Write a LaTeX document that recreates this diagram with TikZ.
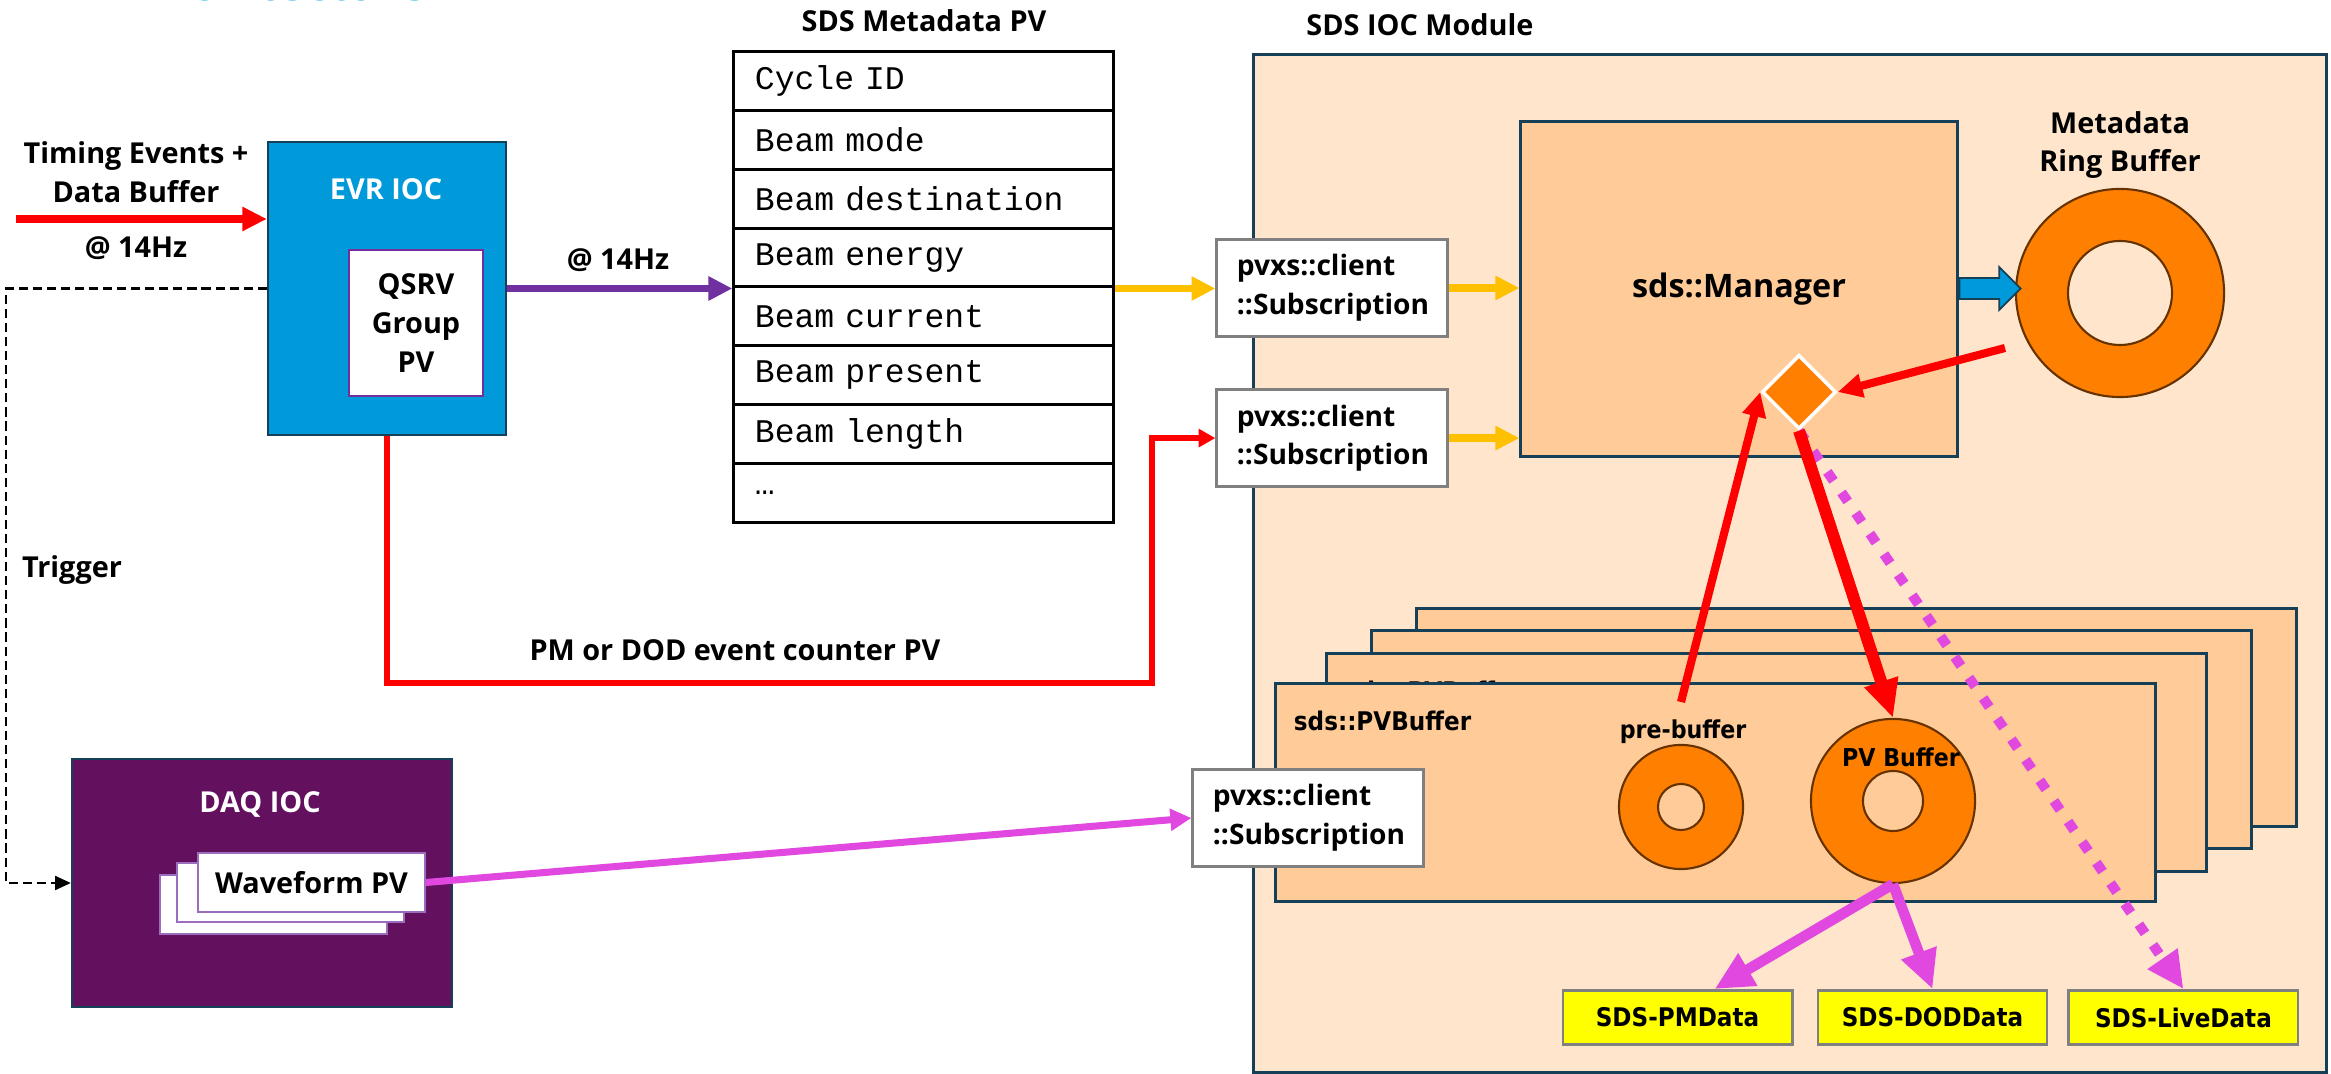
\documentclass[tikz,border=0pt]{standalone}
\usepackage{fontspec}
\setmainfont{Open Sans}
\newfontfamily\svgfont{DejaVu Sans}[FakeStretch=0.9]
\newfontfamily\tablefont{Liberation Mono}
\usetikzlibrary{positioning,arrows.meta,shapes.geometric,shapes.arrows}

\definecolor{evrblue}{RGB}{0,153,218}
\definecolor{edgeteal}{RGB}{22,64,88}
\definecolor{qsrvpurple}{RGB}{112,48,160}
\definecolor{daqpurple}{RGB}{99,16,94}
\definecolor{modulebg}{RGB}{254,229,204}
\definecolor{managerbg}{RGB}{254,203,153}
\definecolor{ringorange}{RGB}{255,127,0}
\definecolor{ringedge}{RGB}{102,51,0}
\definecolor{subyellow}{RGB}{255,192,0}
\definecolor{pvmagenta}{RGB}{224,72,224}
\definecolor{outyellow}{RGB}{255,255,0}
\definecolor{titlecyan}{RGB}{0,160,227}

\begin{document}
\begin{tikzpicture}[
    x=0.01cm, y=-0.01cm,
    node distance=0.5cm,
    font=\bfseries\fontsize{8.2}{11}\selectfont,
    caption/.style={inner sep=0pt, align=center},
    ioc/.style={rectangle, draw=edgeteal, line width=0.6pt, inner sep=0pt},
    qsrvbox/.style={rectangle, draw=qsrvpurple, line width=0.8pt, fill=white, align=center, minimum width=1.34cm, minimum height=1.46cm, inner sep=0pt},
    pvrow/.style={rectangle, draw, line width=0.85pt, minimum height=0.5875cm, text width=3.37cm, inner xsep=0.21cm, inner ysep=0pt, align=left, font=\tablefont\fontsize{9.4}{10}\selectfont},
    clientbox/.style={rectangle, draw=gray, line width=0.85pt, fill=white, text width=1.9cm, inner xsep=0.2cm, minimum height=0.97cm, align=left, font=\bfseries\fontsize{8}{11}\selectfont},
    module/.style={rectangle, draw=edgeteal, line width=0.8pt, fill=modulebg, inner sep=0pt},
    manager/.style={rectangle, draw=edgeteal, line width=0.85pt, fill=managerbg, minimum width=4.36cm, minimum height=3.34cm, font=\bfseries\fontsize{9.2}{11}\selectfont},
    pvbuf/.style={rectangle, draw=edgeteal, line width=0.85pt, fill=managerbg, minimum width=8.79cm, minimum height=2.17cm, inner sep=0pt},
    svglabel/.style={inner sep=0pt, font=\svgfont\bfseries\fontsize{7}{8}\selectfont},
    ringouter/.style={circle, draw=ringedge, line width=0.6pt, fill=ringorange, inner sep=0pt},
    ringhole/.style={circle, draw=ringedge, line width=0.6pt, inner sep=0pt},
    selector/.style={diamond, draw=white, line width=1pt, fill=ringorange, minimum width=0.74cm, minimum height=0.74cm, inner sep=0pt},
    metaarrow/.style={single arrow, draw=edgeteal, line width=0.5pt, fill=evrblue, minimum height=0.61cm, inner xsep=0pt, inner ysep=0.095cm, single arrow head extend=0.11cm, single arrow head indent=0pt},
    outbox/.style={rectangle, draw=gray, line width=0.8pt, fill=outyellow, minimum width=2.29cm, minimum height=0.54cm, font=\svgfont\bfseries\fontsize{7.3}{8}\selectfont},
    wfsheet/.style={rectangle, draw=qsrvpurple!70, line width=0.5pt, fill=white, minimum width=2.27cm, minimum height=0.59cm, inner sep=0pt},
    redarrow/.style={draw=red, line width=2.3pt, -{Triangle[length=7pt,width=6.5pt]}},
    pmline/.style={draw=red, line width=1.7pt, -{Triangle[length=4.8pt,width=5pt]}},
    thickred/.style={draw=red, line width=3.4pt, -{Triangle[length=10.8pt,width=9.4pt]}},
    purplearrow/.style={draw=qsrvpurple, line width=2pt, -{Triangle[length=6.8pt,width=6.5pt]}},
    yellowarrow/.style={draw=subyellow, line width=2.2pt, -{Triangle[length=6.8pt,width=6.5pt]}},
    pinkline/.style={draw=pvmagenta, line width=2pt, -{Triangle[length=6pt,width=6pt]}},
    pinkarrow/.style={draw=pvmagenta, line width=3pt, -{Triangle[length=11pt,width=10pt]}},
    pinkdotted/.style={draw=pvmagenta, line width=2.85pt, dash pattern=on 3.1pt off 4pt, -{Triangle[length=10.5pt,width=9.7pt]}},
    triggerline/.style={draw=black, line width=0.6pt, dash pattern=on 2.6pt off 1.4pt, -{Triangle[length=4.5pt,width=4pt]}}
]
    \useasboundingbox (0,0) rectangle (2331,1074);
    \fill[white] (0,0) rectangle (2331,1074);

    % Slide title, cut off at the top
    \node[anchor=base west, inner sep=0pt, text=titlecyan, font=\fontsize{14.5}{16}\selectfont] (title) at (137,0.5) {Architecture};

    % EVR IOC
    \node[ioc, fill=evrblue, minimum width=2.38cm, minimum height=2.93cm] (evr) at (387,288.5) {};
    \node[caption, text=white] (evrtitle) at (386,189) {EVR IOC};
    \node[qsrvbox] (qsrv) at (416,323) {QSRV\\Group\\PV};

    % Timing input
    \coordinate (timingin) at (16,219);
    \draw[redarrow] (timingin) -- (timingin -| evr.west);
    \node[caption] (timinglabel) at (136,172) {Timing Events +\\Data Buffer};
    \node[caption] (timingrate) at (136,248) {@ 14Hz};

    % SDS Metadata PV
    \node[caption] (metatitle) at (924,21) {SDS Metadata PV};
    \foreach \field [count=\i] in {Cycle ID, Beam mode, Beam destination, Beam energy, Beam current, Beam present, Beam length, …}
        \node[pvrow] (row\i) at (923.5,{52+58.75*(\i-0.5)}) {\field};
    \draw[purplearrow] (evr.east |- row4.south west) -- (row4.south west);
    \node[caption] (metarate) at (618,260) {@ 14Hz};

    % SDS IOC Module
    \node[caption] (moduletitle) at (1420,25) {SDS IOC Module};
    \node[module, minimum width=10.72cm, minimum height=10.17cm] (module) at (1790,563.5) {};
    \node[manager] (manager) at (1739,289) {sds::Manager};

    % Subscriptions
    \node[clientbox] (pvxs1) at (1332,288) {pvxs::client\\::Subscription};
    \node[clientbox, below=0.5cm of pvxs1] (pvxs2) {pvxs::client\\::Subscription};
    \draw[yellowarrow] (row4.south east) -- (row4.south east -| pvxs1.west);
    \draw[yellowarrow] (pvxs1.east) -- (pvxs1.east -| manager.west);
    \draw[yellowarrow] (pvxs2.east) -- (pvxs2.east -| manager.west);

    % Metadata ring buffer
    \node[ringouter, minimum size=2.08cm] (metaring) at (2120,293) {};
    \node[ringhole, fill=modulebg, minimum size=1.04cm] (metahole) at (metaring.center) {};
    \node[caption] (metalabel) at (2120,145) {Metadata\\Ring Buffer};
    \node[metaarrow, anchor=tail] (metaflow) at (manager.east |- row4.south) {};
    \node[selector] (select) at (1799,392) {};

    % PV buffers
    \foreach \dx/\dy/\lvl in {141/-75/4, 96/-53/3, 51/-30/2, 0/0/1} {
        \node[pvbuf] (buf\lvl) at ({1715.5+\dx},{792.5+\dy}) {};
        \node[svglabel, anchor=west, font=\svgfont\bfseries\fontsize{7.3}{8}\selectfont] (buflabel\lvl) at ([shift={(19,38)}]buf\lvl.north west) {sds::PVBuffer};
    }
    \node[ringouter, minimum size=1.24cm] (prering) at (1681,807) {};
    \node[ringhole, fill=managerbg, minimum size=0.46cm] (prehole) at (prering.center) {};
    \node[svglabel] (prelabel) at (1683,732) {pre-buffer};
    \node[ringouter, minimum size=1.64cm] (pvring) at (1893,801) {};
    \node[ringhole, fill=managerbg, minimum size=0.6cm] (pvhole) at (pvring.center) {};
    \node[svglabel] (pvlabel) at (1901,757) {PV Buffer};
    \node[clientbox] (pvxs3) at (1308,818) {pvxs::client\\::Subscription};

    % Outputs
    \node[outbox] (pmdata) at (1677.5,1017.5) {SDS-PMData};
    \node[outbox, right=0.23cm of pmdata] (doddata) {SDS-DODData};
    \node[outbox, right=0.19cm of doddata] (livedata) {SDS-LiveData};

    % Buffer flows
    \coordinate (ringtap) at (2005,348);
    \coordinate (pretap) at (1681,702);
    \draw[redarrow] (ringtap) -- (select.east);
    \draw[redarrow] (pretap) -- (select.west);
    \draw[pinkdotted] (select.south) -- (livedata.north);
    \draw[thickred] (select.south) -- (pvring.north);
    \draw[pinkarrow] (pvring.south) -- ([xshift=0.37cm]pmdata.north);
    \draw[pinkarrow] (pvring.south) -- (doddata.north);

    % DAQ IOC
    \node[ioc, fill=daqpurple, minimum width=3.8cm, minimum height=2.48cm] (daq) at (262,883) {};
    \node[caption, text=white] (daqtitle) at (260,804) {DAQ IOC};
    \node[wfsheet] (wfback) at (273.5,904.5) {};
    \node[wfsheet] (wfmid) at (290.5,892.5) {};
    \node[wfsheet] (wffront) at (311.5,882.5) {Waveform PV};
    \draw[pinkline] (wffront.east) -- (pvxs3.west);

    % Trigger
    \coordinate (trigturn) at (6,0);
    \draw[triggerline] (evr.west) -- (evr.west -| trigturn) |- (daq.west);
    \node[caption] (triggerlabel) at (72,570) {Trigger};

    % Event counter
    \coordinate (pmturn) at (1152,683);
    \draw[pmline] (evr.south) |- (pmturn) |- (pvxs2.west);
    \node[caption] (pmlabel) at (735,650) {PM or DOD event counter PV};
\end{tikzpicture}
\end{document}
